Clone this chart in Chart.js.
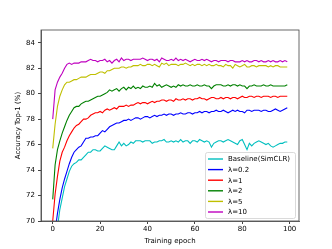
<!DOCTYPE html>
<html>
<head>
<meta charset="utf-8">
<script src="https://cdn.jsdelivr.net/npm/chart.js@4/dist/chart.umd.min.js"></script>
<style>
  html, body { margin: 0; padding: 0; background: #fff; }
  #wrap { width: 332px; height: 249px; }
</style>
</head>
<body>
<div id="wrap"><canvas id="chart"></canvas></div>
<script>
const epochs = Array.from({ length: 100 }, (_, i) => i);

const baseline = [
    65.8, 67.9, 69.5, 70.9, 71.8, 72.7, 73.3, 73.9, 74.3, 74.5,
    74.6, 74.8, 74.8, 75.0, 75.2, 75.4, 75.4, 75.6, 75.6, 75.5,
    75.5, 75.7, 75.9, 75.8, 75.7, 75.6, 75.6, 75.9, 76.2, 75.9,
    76.1, 75.9, 76.0, 76.2, 76.1, 76.3, 76.3, 76.3, 76.2, 76.3,
    76.3, 76.3, 76.1, 76.2, 76.2, 76.3, 76.3, 76.4, 76.2, 76.2,
    76.3, 76.2, 76.3, 76.2, 76.4, 76.2, 76.3, 76.3, 76.1, 76.3,
    76.3, 76.2, 76.4, 76.3, 76.2, 76.3, 76.2, 75.8, 76.1, 76.2,
    76.3, 76.3, 76.2, 76.3, 76.4, 76.3, 76.2, 76.1, 76.0, 76.3,
    76.4, 76.0, 75.6, 76.1, 75.9, 76.1, 76.2, 76.3, 76.2, 76.1,
    76.0, 76.1, 75.9, 75.8, 75.9, 76.0, 76.1, 76.1, 76.2, 76.2,
];
const lambda02 = [
    66.5, 69.2, 70.6, 71.7, 72.6, 73.3, 73.9, 74.5, 75.0, 75.4,
    75.6, 75.8, 75.9, 76.2, 76.5, 76.5, 76.6, 76.6, 76.7, 76.7,
    76.9, 77.1, 77.0, 77.2, 77.4, 77.5, 77.6, 77.7, 77.7, 77.8,
    77.9, 77.9, 78.0, 77.9, 78.0, 78.1, 78.1, 78.0, 78.1, 78.2,
    78.2, 78.1, 78.2, 78.3, 78.2, 78.3, 78.3, 78.4, 78.3, 78.4,
    78.4, 78.3, 78.4, 78.4, 78.5, 78.4, 78.4, 78.5, 78.5, 78.4,
    78.5, 78.5, 78.6, 78.5, 78.6, 78.6, 78.5, 78.6, 78.6, 78.7,
    78.6, 78.6, 78.7, 78.6, 78.5, 78.6, 78.7, 78.6, 78.7, 78.6,
    78.6, 78.5, 78.7, 78.7, 78.6, 78.7, 78.7, 78.7, 78.6, 78.7,
    78.7, 78.6, 78.6, 78.7, 78.8, 78.7, 78.6, 78.7, 78.8, 78.9,
];
const lambda1 = [
    70.0, 72.1, 73.5, 74.7, 75.4, 75.8, 76.3, 76.7, 77.0, 77.3,
    77.5, 77.6, 77.8, 78.0, 78.0, 78.1, 78.3, 78.4, 78.5, 78.5,
    78.6, 78.5, 78.7, 78.8, 78.7, 78.8, 78.9, 78.8, 79.0, 79.0,
    79.0, 79.1, 79.0, 79.1, 79.1, 79.2, 79.3, 79.2, 79.3, 79.3,
    79.2, 79.3, 79.4, 79.3, 79.4, 79.4, 79.5, 79.5, 79.4, 79.5,
    79.5, 79.4, 79.6, 79.5, 79.5, 79.6, 79.5, 79.6, 79.6, 79.5,
    79.6, 79.6, 79.7, 79.6, 79.6, 79.5, 79.6, 79.7, 79.7, 79.6,
    79.6, 79.7, 79.6, 79.7, 79.7, 79.6, 79.7, 79.7, 79.6, 79.7,
    79.8, 79.7, 79.7, 79.8, 79.8, 79.7, 79.8, 79.8, 79.7, 79.8,
    79.8, 79.8, 79.7, 79.8, 79.8, 79.7, 79.8, 79.8, 79.8, 79.8,
];
const lambda2 = [
    71.7, 74.4, 75.6, 76.3, 76.9, 77.4, 77.9, 78.3, 78.6, 78.9,
    79.0, 79.0, 79.2, 79.3, 79.4, 79.4, 79.5, 79.6, 79.7, 79.8,
    79.8, 79.9, 80.0, 80.1, 80.3, 80.2, 80.3, 80.4, 80.2, 80.4,
    80.5, 80.3, 80.5, 80.4, 80.6, 80.4, 80.5, 80.4, 80.6, 80.5,
    80.5, 80.6, 80.5, 80.8, 80.6, 80.7, 80.5, 80.6, 80.7, 80.6,
    80.5, 80.6, 80.5, 80.7, 80.6, 80.7, 80.6, 80.6, 80.7, 80.6,
    80.6, 80.7, 80.6, 80.6, 80.7, 80.6, 80.6, 80.4, 80.6, 80.7,
    80.7, 80.7, 80.6, 80.6, 80.7, 80.6, 80.7, 80.7, 80.6, 80.7,
    80.6, 80.6, 80.4, 80.6, 80.6, 80.7, 80.6, 80.6, 80.6, 80.7,
    80.6, 80.6, 80.7, 80.6, 80.6, 80.6, 80.6, 80.6, 80.6, 80.7,
];
const lambda5 = [
    75.7, 77.6, 79.0, 79.8, 80.3, 80.7, 80.9, 80.9, 81.0, 81.1,
    81.1, 81.2, 81.3, 81.3, 81.3, 81.4, 81.5, 81.5, 81.5, 81.6,
    81.7, 81.7, 81.6, 81.8, 81.8, 81.9, 82.0, 82.0, 82.0, 82.1,
    82.1, 82.0, 82.1, 82.1, 82.2, 82.2, 82.2, 82.3, 82.2, 82.2,
    82.3, 82.3, 82.2, 82.3, 82.2, 82.1, 82.4, 82.3, 82.4, 82.2,
    82.3, 82.3, 82.3, 82.2, 82.3, 82.3, 82.4, 82.3, 82.2, 82.3,
    82.2, 82.3, 82.3, 82.2, 82.3, 82.2, 82.3, 82.2, 82.2, 82.3,
    82.2, 82.2, 82.1, 82.3, 82.2, 82.2, 82.0, 82.3, 82.2, 82.1,
    82.2, 82.3, 82.1, 82.1, 82.2, 82.2, 82.1, 82.2, 82.2, 82.2,
    82.2, 82.1, 82.2, 82.1, 82.2, 82.2, 82.1, 82.1, 82.1, 82.1,
];
const lambda10 = [
    78.0, 80.3, 80.9, 81.3, 81.6, 82.0, 82.3, 82.4, 82.3, 82.4,
    82.4, 82.4, 82.5, 82.5, 82.5, 82.6, 82.7, 82.6, 82.6, 82.5,
    82.6, 82.6, 82.7, 82.5, 82.6, 82.4, 82.6, 82.7, 82.5, 82.8,
    82.6, 82.7, 82.7, 82.6, 82.7, 82.7, 82.7, 82.7, 82.8, 82.7,
    82.6, 82.7, 82.7, 82.6, 82.7, 82.5, 82.8, 82.7, 82.6, 82.6,
    82.7, 82.6, 82.8, 82.6, 82.7, 82.6, 82.7, 82.6, 82.5, 82.6,
    82.7, 82.6, 82.6, 82.7, 82.6, 82.7, 82.6, 82.5, 82.6, 82.6,
    82.5, 82.6, 82.6, 82.6, 82.5, 82.6, 82.6, 82.5, 82.5, 82.5,
    82.6, 82.5, 82.6, 82.5, 82.5, 82.6, 82.6, 82.5, 82.6, 82.5,
    82.5, 82.6, 82.5, 82.6, 82.5, 82.5, 82.6, 82.5, 82.6, 82.5,
];

const seriesLabels = ['Baseline(SimCLR)', 'λ=0.2', 'λ=1', 'λ=2', 'λ=5', 'λ=10'];
const seriesColors = ['#00bfbf', '#0000ff', '#ff0000', '#008000', '#bfbf00', '#bf00bf'];
const xTicks = [0, 20, 40, 60, 80, 100];
const yTicks = [70, 72, 74, 76, 78, 80, 82, 84];

const FONT = 'DejaVu Sans';
Chart.defaults.font.family = FONT;
Chart.defaults.font.size = 7;
Chart.defaults.color = '#000';

const allSeries = [baseline, lambda02, lambda1, lambda2, lambda5, lambda10];

const datasets = allSeries.map((vals, i) => ({
    label: seriesLabels[i],
    data: vals.map((v, j) => ({ x: epochs[j], y: v })),
    borderColor: seriesColors[i],
    backgroundColor: seriesColors[i],
    borderWidth: 1.1,
    pointRadius: 0,
    tension: 0,
    fill: false,
}));

// frame round the plot and the legend box inside it
const framePlugin = {
    id: 'frame',
    afterDraw(chart) {
        const { ctx, chartArea: a } = chart;
        ctx.save();
        ctx.strokeStyle = '#444';
        ctx.lineWidth = 0.8;
        ctx.strokeRect(a.left, a.top, a.right - a.left, a.bottom - a.top);

        // legend
        const bx = 205, by = 152, bw = 90, bh = 66;
        ctx.fillStyle = 'rgba(255,255,255,0.8)';
        ctx.strokeStyle = '#d0d0d0';
        ctx.lineWidth = 0.8;
        ctx.beginPath();
        ctx.roundRect(bx + 0.5, by + 0.5, bw, bh, 2);
        ctx.fill();
        ctx.stroke();
        ctx.font = '7px ' + FONT;
        ctx.textBaseline = 'middle';
        ctx.fillStyle = '#000';
        chart.data.datasets.forEach((ds, i) => {
            const y = by + 7 + i * 10.6;
            ctx.strokeStyle = ds.borderColor;
            ctx.lineWidth = 1.4;
            ctx.beginPath();
            ctx.moveTo(bx + 3, y);
            ctx.lineTo(bx + 18, y);
            ctx.stroke();
            ctx.fillText(ds.label, bx + 23, y + 0.5);
        });
        ctx.restore();
    }
};

new Chart(document.getElementById('chart'), {
    type: 'line',
    data: { datasets: datasets },
    options: {
        responsive: true,
        maintainAspectRatio: false,
        animation: false,
        layout: { padding: { left: 0, right: 33, top: 30, bottom: 0 } },
        plugins: {
            legend: { display: false },
            tooltip: { enabled: false },
        },
        scales: {
            x: {
                type: 'linear',
                min: -4.95,
                max: 103.95,
                afterBuildTicks: (s) => { s.ticks = xTicks.map(v => ({ value: v })); },
                afterFit: (s) => { s.height = 28; },
                grid: { display: true, drawOnChartArea: false, drawTicks: true, tickLength: 3, color: '#444' },
                border: { display: true, color: '#444', width: 0.8 },
                ticks: { padding: 1, maxRotation: 0, font: { size: 7 } },
                title: { display: true, text: 'Training epoch', font: { size: 7 }, padding: { top: 0, bottom: 4 } },
            },
            y: {
                min: 70,
                max: 85,
                afterBuildTicks: (s) => { s.ticks = yTicks.map(v => ({ value: v })); },
                afterFit: (s) => { s.width = 41; },
                grid: { display: true, drawOnChartArea: false, drawTicks: true, tickLength: 3, color: '#444' },
                border: { display: true, color: '#444', width: 0.8 },
                ticks: { padding: 3, font: { size: 7 } },
                title: { display: true, text: 'Accuracy Top-1 (%)', font: { size: 7 }, padding: { top: 14, bottom: 0 } },
            },
        },
    },
    plugins: [framePlugin],
});
</script>
</body>
</html>
